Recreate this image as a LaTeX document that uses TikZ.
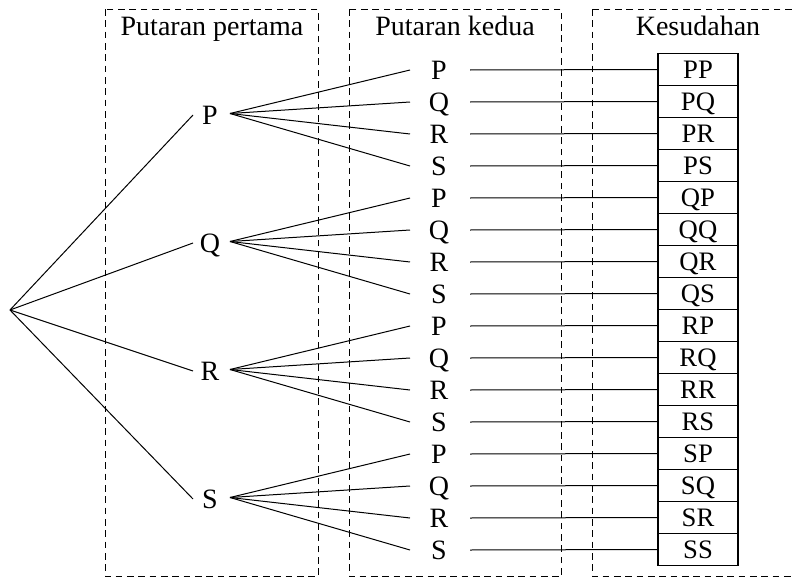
\documentclass[tikz,border=0pt]{standalone}
\usepackage{fontspec}
\setmainfont{Liberation Serif}
\begin{document}
\begin{tikzpicture}[x=0.75pt,y=-0.75pt,
  lbl/.style={font=\fontsize{21}{24}\selectfont, inner sep=0pt, text height=14pt, text depth=0pt},
  boxlbl/.style={font=\fontsize{20}{24}\selectfont, draw, line width=0.9pt, minimum width=60pt, minimum height=24pt, inner sep=0pt, text height=13.3pt, text depth=0pt},
  column/.style={draw, dash pattern=on 5pt off 3.5pt, line width=0.7pt},
  edge/.style={line width=0.75pt}]
\useasboundingbox (0,0) rectangle (793,578);
% columns
\draw[column] (105,9) rectangle (318,576.5);
\draw[column] (349,9) rectangle (561.5,576.5);
\draw[column] (592,9) rectangle (810,576.5);
\node[lbl] (t1) at (212,26) {Putaran pertama};
\node[lbl] (t2) at (455,26) {Putaran kedua};
\node[lbl] (t3) at (698,26) {Kesudahan};
% root
\coordinate (root) at (10,310);
\foreach \a [count=\k from 0] in {P,Q,R,S} {
  \pgfmathsetmacro{\yy}{115+128*\k}
  \node[lbl] (L\a) at (210,\yy) {\a};
  \coordinate (L\a in) at (193,\yy);
  \coordinate (L\a out) at (230,\yy-1.5);
  \draw[edge] (root) -- (L\a in);
  \foreach \b [count=\j from 0] in {P,Q,R,S} {
    \pgfmathsetmacro{\y}{70+32*(4*\k+\j)}
    \node[lbl] (M\a\b) at (439,\y) {\b};
    \coordinate (M\a\b in) at (410,\y);
    \coordinate (M\a\b out) at (470,\y);
    \node[boxlbl] (O\a\b) at (698,\y-0.5) {\a\b};
    \draw[edge] (L\a out) -- (M\a\b in);
    \draw[edge] (M\a\b out) -- (O\a\b.west);
  }
}
\end{tikzpicture}
\end{document}
